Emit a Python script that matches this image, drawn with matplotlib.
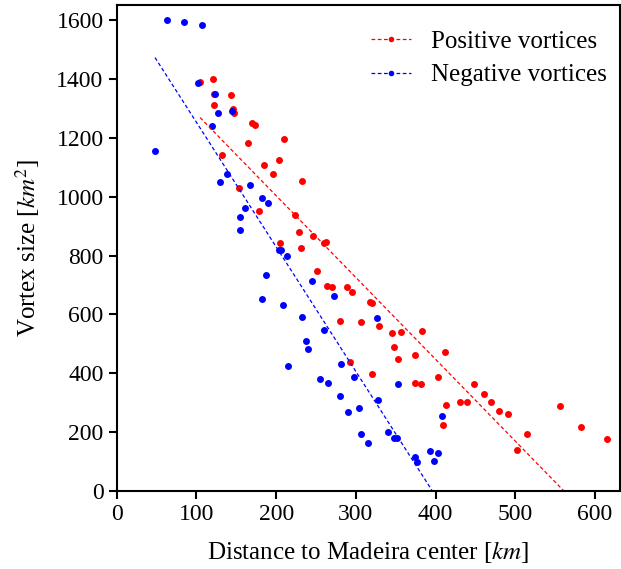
import numpy as np
import matplotlib
matplotlib.use("Agg")
import matplotlib.pyplot as plt
from matplotlib.lines import Line2D

# distance to Madeira center [km] and vortex size [km^2]
pos_dist = [104.5, 121, 121.7, 143, 121.7, 146, 146.8, 131.7, 153, 185.3,
            203, 196, 178.5, 205, 169.4, 173.5, 209.5, 164.7, 232.5, 223.7,
            229.2, 246.3, 260, 262.6, 231.6, 251.4, 263.5, 269.4, 289.4, 295.7,
            317.4, 320.8, 279.8, 306, 329, 292.3, 320.8, 345.4, 356.3, 383,
            348, 352.6, 374.3, 411.5, 374, 381.4, 402.4, 448.3, 461.2, 469.3,
            430.4, 438.8, 412.8, 480.1, 490.6, 556.2, 583, 514.4, 502.3, 614.8,
            409.4]
pos_size = [1389, 1399, 1350, 1346, 1311, 1298, 1284, 1143, 1030, 1108,
            1125, 1077, 950, 844, 1250, 1243, 1196, 1181, 1053, 938,
            881, 866, 844, 845, 825, 747, 698, 693, 694, 675,
            642, 640, 577, 576, 560, 438, 396, 538, 541, 544,
            489, 447, 461, 471, 367, 363, 386, 363, 330, 304,
            302, 302, 294, 272, 262, 288, 219, 193, 140, 177,
            226]

neg_dist = [63.6, 84, 106.6, 101.6, 123.8, 127, 144, 119.6, 48, 138.8,
            129.6, 167.7, 182.3, 190, 161, 154, 154.7, 204, 206, 214,
            187.8, 182.8, 209, 245, 272, 232, 259.4, 237, 239.6, 214.6,
            281, 297.4, 254.7, 265, 280.6, 303.6, 289.5, 306.5, 315.3, 328,
            326.6, 353.4, 340, 347.2, 351.3, 374.3, 376.8, 392.7, 402.4, 397.4,
            407.4]
neg_size = [1601, 1593, 1582, 1387, 1349, 1285, 1291, 1240, 1157, 1077,
            1049, 1039, 994, 977, 960, 932, 888, 820, 820, 800,
            734, 651, 632, 715, 664, 592, 546, 509, 482, 425,
            432, 386, 382, 368, 322, 281, 268, 195, 164, 310,
            589, 364, 201, 181, 179, 114, 99, 135, 128, 101,
            254]

# linear fit coefficients (slope, intercept)
pos_fit = (-2.78, 1559.5)
neg_fit = (-4.233, 1676.0)

plt.rcParams["font.family"] = "Liberation Serif"
plt.rcParams["mathtext.fontset"] = "stix"

fig = plt.figure(figsize=(6.21, 5.69), dpi=100)
ax = fig.add_axes([0.188, 0.137, 0.81, 0.854])

ax.plot(pos_dist, pos_size, "o", color="red", ms=5, mec="none")
ax.plot(neg_dist, neg_size, "o", color="blue", ms=5, mec="none")

xp = np.linspace(min(pos_dist), max(pos_dist), 100)
ax.plot(xp, np.polyval(pos_fit, xp), color="red", lw=0.9, ls=(0, (3, 2)))
xn = np.linspace(min(neg_dist), max(neg_dist), 100)
ax.plot(xn, np.polyval(neg_fit, xn), color="blue", lw=0.9, ls=(0, (3, 2)))

handles = [
    Line2D([], [], color="red", lw=0.9, ls=(0, (3, 2)), marker="o", ms=4, mec="none"),
    Line2D([], [], color="blue", lw=0.9, ls=(0, (3, 2)), marker="o", ms=4, mec="none"),
]
ax.legend(handles, ["Positive vortices", "Negative vortices"], loc="upper right",
          frameon=False, fontsize=18, handlelength=1.6, labelspacing=0.45,
          handletextpad=0.8, bbox_to_anchor=(1.02, 0.995))

ax.set_xlim(0, 631)
ax.set_ylim(0, 1651)
ax.set_xticks(range(0, 601, 100))
ax.set_yticks(range(0, 1601, 200))
ax.tick_params(labelsize=17, width=1.5, length=6)
for s in ax.spines.values():
    s.set_linewidth(1.5)

ax.set_xlabel(r"Distance to Madeira center [$km$]", fontsize=18, labelpad=10)
ax.set_ylabel(r"Vortex size [$km^2$]", fontsize=18, labelpad=10)

fig.savefig("out.png", dpi=100)
